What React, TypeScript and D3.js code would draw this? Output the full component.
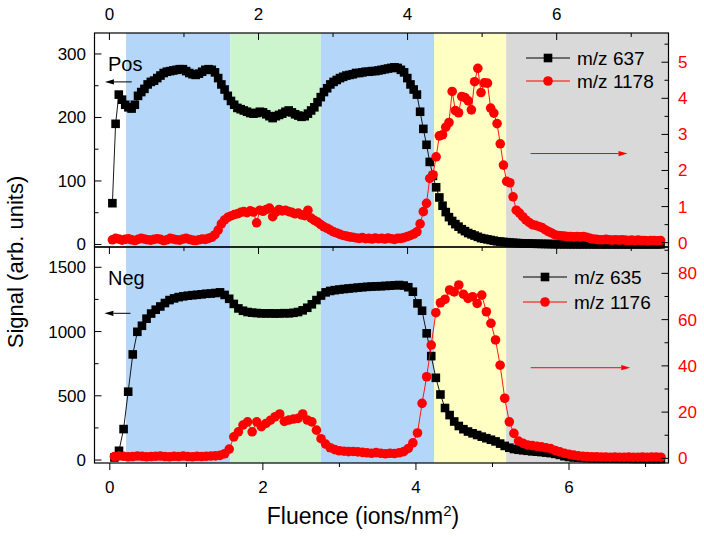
import React from 'react';
import * as d3 from 'd3';

const W = 704;
const H = 537;
const FONT = 'Arial, "Liberation Sans", sans-serif';

// fluence grid (ions/nm2) of the two measurements, regular acquisition steps
const posFluence = d3.range(172).map(i => 0.04 + 0.043 * i);
const negFluence = d3.range(120).map(i => 0.06 + 0.06 * i);

// positive mode, m/z 637 (left axis)
const pos637 = [
  65, 190, 236, 228, 220, 216, 214, 220, 234, 240,
  245, 252, 256, 258, 262, 266, 270, 272, 273, 274,
  275, 276, 276, 273, 270, 268, 267, 269, 272, 275,
  276, 275, 271, 262, 252, 244, 234, 226, 220, 215,
  213, 211, 209, 207, 206, 207, 209, 208, 205, 202,
  199, 202, 204, 206, 209, 211, 208, 205, 203, 201,
  202, 206, 211, 216, 224, 232, 240, 246, 252, 256,
  259, 262, 264, 266, 267, 268, 270, 270, 271, 272,
  272, 273, 273, 274, 275, 276, 277, 278, 279, 278,
  275, 271, 262, 252, 244, 236, 209, 182, 157, 130,
  108, 90, 74, 61, 51, 43, 37, 32, 28, 24,
  21, 18, 16, 14, 12, 10, 9, 8, 7, 6,
  5, 4.5, 4, 3.5, 3, 2.6, 2.3, 2, 1.8, 1.6,
  1.4, 1.2, 1.1, 1, 0.9, 0.8, 0.7, 0.6, 0.5, 0.5,
  0.4, 0.4, 0.4, 0.3, 0.4, 0.3, 0.3, 0.3, 0.3, 0.3,
  0.3, 0.2, 0.3, 0.2, 0.2, 0.3, 0.2, 0.2, 0.2, 0.2,
  0.2, 0.2, 0.2, 0.2, 0.2, 0.2, 0.2, 0.2, 0.2, 0.2,
  0.2, 0.2,
];

// positive mode, m/z 1178 (right axis)
const pos1178 = [
  0.08, 0.12, 0.10, 0.07, 0.09, 0.11, 0.08, 0.06, 0.09, 0.12,
  0.10, 0.08, 0.07, 0.09, 0.11, 0.09, 0.06, 0.08, 0.12, 0.10,
  0.08, 0.07, 0.10, 0.12, 0.09, 0.07, 0.06, 0.08, 0.10, 0.09,
  0.12, 0.15, 0.22, 0.35, 0.52, 0.63, 0.70, 0.74, 0.78, 0.80,
  0.84, 0.86, 0.83, 0.88, 0.85, 0.55, 0.90, 0.87, 0.92, 0.96,
  0.72, 0.85, 0.92, 0.88, 0.90, 0.86, 0.84, 0.80, 0.82, 0.77,
  0.75, 0.90, 0.68, 0.62, 0.57, 0.50, 0.44, 0.40, 0.35, 0.30,
  0.27, 0.23, 0.20, 0.18, 0.16, 0.15, 0.13, 0.12, 0.14, 0.11,
  0.12, 0.10, 0.13, 0.11, 0.12, 0.10, 0.13, 0.11, 0.09, 0.12,
  0.12, 0.14, 0.17, 0.20, 0.24, 0.30, 0.52, 0.86, 1.09, 1.78,
  1.88, 2.38, 2.96, 2.99, 3.20, 3.33, 4.19, 3.66, 3.60, 4.05,
  4.02, 3.93, 3.68, 4.46, 4.83, 4.16, 4.43, 4.42, 3.73, 3.59,
  3.30, 2.74, 2.15, 1.70, 1.66, 1.27, 0.90, 0.82, 0.72, 0.63,
  0.56, 0.50, 0.48, 0.45, 0.42, 0.36, 0.31, 0.27, 0.22, 0.20,
  0.19, 0.18, 0.17, 0.17, 0.16, 0.17, 0.16, 0.17, 0.15, 0.12,
  0.10, 0.09, 0.08, 0.08, 0.09, 0.08, 0.07, 0.08, 0.07, 0.08,
  0.07, 0.06, 0.07, 0.06, 0.07, 0.06, 0.06, 0.05, 0.06, 0.06,
  0.05, 0.06,
];

// negative mode, m/z 635 (left axis)
const neg635 = [
  20, 72, 241, 532, 822, 998, 1045, 1100, 1140, 1170,
  1195, 1222, 1245, 1258, 1268, 1274, 1279, 1283, 1286, 1290,
  1294, 1296, 1300, 1305, 1285, 1255, 1215, 1180, 1162, 1152,
  1147, 1144, 1142, 1141, 1142, 1140, 1141, 1143, 1142, 1146,
  1152, 1165, 1185, 1212, 1245, 1280, 1305, 1316, 1322, 1327,
  1331, 1335, 1338, 1342, 1345, 1348, 1350, 1352, 1353, 1355,
  1357, 1360, 1362, 1358, 1345, 1310, 1219, 1162, 986, 809,
  640, 510, 405, 350, 300, 265, 240, 222, 208, 195,
  182, 170, 158, 145, 128, 110, 96, 86, 80, 76,
  72, 68, 65, 62, 58, 54, 48, 40, 30, 24,
  20, 18, 16, 15, 14, 13, 12, 12, 11, 11,
  10, 10, 10, 9, 9, 9, 8, 8, 8, 8,
];

// negative mode, m/z 1176 (right axis)
const neg1176 = [
  0.8, 1.0, 0.9, 0.7, 0.8, 1.0, 0.9, 0.7, 0.8, 0.9,
  1.0, 0.8, 0.7, 0.9, 0.8, 1.0, 0.8, 0.7, 0.9, 0.8,
  0.9, 1.0, 1.1, 1.3, 2.0, 4.0, 9.3, 11.5, 14.4, 15.8,
  11.5, 15.8, 13.7, 15.1, 16.5, 18.0, 19.2, 16.0, 16.6, 17.0,
  17.3, 19.2, 16.6, 15.8, 12.2, 8.5, 6.2, 4.6, 3.8, 3.3,
  3.1, 2.9, 3.0, 2.8, 2.6, 2.4, 2.2, 2.5, 2.2, 2.0,
  2.2, 2.1, 2.4, 2.9, 4.3, 6.7, 11.0, 23.8, 35.3, 49.0,
  63.0, 67.3, 68.8, 72.8, 72.0, 75.0, 71.0, 69.2, 69.9, 67.0,
  70.6, 63.4, 58.4, 51.2, 40.3, 26.0, 15.8, 10.8, 7.5, 6.5,
  5.8, 5.5, 5.2, 5.0, 4.6, 4.2, 3.4, 2.8, 2.2, 1.8,
  1.4, 1.1, 0.9, 0.8, 0.7, 0.7, 0.6, 0.6, 0.5, 0.6,
  0.5, 0.5, 0.6, 0.5, 0.5, 0.6, 0.5, 0.6, 0.6, 0.5,
];

// shaded fluence regions (edges in fluence units of the upper scale)
const bandEdges = [0.223, 1.622, 2.835, 4.356, 5.322, 7.5];
const bandColors = ['#b4d7f9', '#cdf5cd', '#b4d7f9', '#fffec3', '#d9d9d9'];

// ticks
const xMajor = [0, 2, 4, 6];
const xMinor = [1, 3, 5, 7];
const posLeftMajor = [0, 100, 200, 300];
const posLeftMinor = [50, 150, 250];
const posRightMajor = [0, 1, 2, 3, 4, 5];
const posRightMinor = [0.5, 1.5, 2.5, 3.5, 4.5, 5.5];
const negLeftMajor = [0, 500, 1000, 1500];
const negLeftMinor = [250, 750, 1250];
const negRightMajor = [0, 20, 40, 60, 80];
const negRightMinor = [10, 30, 50, 70, 90];

const legendPos = ['m/z 637', 'm/z 1178'];
const legendNeg = ['m/z 635', 'm/z 1176'];

const L = 94.5, R = 668.5, T1 = 33, B1 = 247, T2 = 247, B2 = 463;

const xTop = d3.scaleLinear().domain([-0.2, 7.5]).range([L, R]);
const xBot = d3.scaleLinear().domain([-0.2, 7.3]).range([L, R]);
const posL = d3.scaleLinear().domain([-4, 333]).range([B1, T1]);
const posR = d3.scaleLinear().domain([-0.12, 5.81]).range([B1, T1]);
const negL = d3.scaleLinear().domain([-23, 1658]).range([B2, T2]);
const negR = d3.scaleLinear().domain([-2, 91.4]).range([B2, T2]);

const RED = '#ff0000';

function Series({ xs, ys, x, y, color, kind }: any) {
  const line = d3.line<number>().x((_, i) => x(xs[i])).y(d => y(d));
  return (
    <g>
      <path d={line(ys) || ''} fill="none" stroke={color} strokeWidth={0.9} />
      {ys.map((v: number, i: number) =>
        kind === 'square' ? (
          <rect key={i} x={x(xs[i]) - 4.3} y={y(v) - 4.3} width={8.6} height={8.6} fill={color} />
        ) : (
          <circle key={i} cx={x(xs[i])} cy={y(v)} r={4.8} fill={color} />
        )
      )}
    </g>
  );
}

function Arrow({ x1, x2, y, color }: any) {
  const dir = x2 > x1 ? 1 : -1;
  const hl = 9;
  return (
    <g>
      <line x1={x1} y1={y} x2={x2 - dir * hl} y2={y} stroke={color} strokeWidth={1} />
      <path d={`M${x2},${y} L${x2 - dir * hl},${y - 2.6} L${x2 - dir * hl},${y + 2.6} Z`} fill={color} />
    </g>
  );
}

function LegendRow({ x, y, label, color, kind }: any) {
  const cx = x + 22;
  return (
    <g>
      <line x1={x} y1={y} x2={x + 44} y2={y} stroke={color} strokeWidth={1} />
      {kind === 'square' ? (
        <rect x={cx - 4.3} y={y - 4.3} width={8.6} height={8.6} fill={color} />
      ) : (
        <circle cx={cx} cy={y} r={4.8} fill={color} />
      )}
      <text x={x + 51} y={y + 6.8} fontSize={19} fill="#000">{label}</text>
    </g>
  );
}

function YTicks({ scale, major, minor, side, color }: any) {
  const x0 = side === 'left' ? L : R;
  const d = side === 'left' ? 1 : -1;
  return (
    <g>
      {major.map((v: number) => (
        <g key={'M' + v}>
          <line x1={x0} x2={x0 + d * 7} y1={scale(v)} y2={scale(v)} stroke="#000" strokeWidth={1} />
          <text
            x={side === 'left' ? 86 : 678}
            y={scale(v) + 6}
            fontSize={17}
            textAnchor={side === 'left' ? 'end' : 'start'}
            fill={color}
          >
            {v}
          </text>
        </g>
      ))}
      {minor.map((v: number) => (
        <line key={'m' + v} x1={x0} x2={x0 + d * 4} y1={scale(v)} y2={scale(v)} stroke="#000" strokeWidth={1} />
      ))}
    </g>
  );
}

export default function App() {
  return (
    <svg
      width={W}
      height={H}
      style={{ position: 'absolute', left: 0, top: 0, background: '#fff' }}
      fontFamily={FONT}
    >
      <rect x={0} y={0} width={W} height={H} fill="#fff" />
      {/* shaded regions across both panels */}
      {bandColors.map((c, i) => (
        <rect
          key={i}
          x={xTop(bandEdges[i])}
          y={T1}
          width={xTop(bandEdges[i + 1]) - xTop(bandEdges[i])}
          height={B2 - T1}
          fill={c}
        />
      ))}

      {/* upper panel (Pos) */}
      <Series xs={posFluence} ys={pos637} x={xTop} y={posL} color="#000" kind="square" />
      <Series xs={posFluence} ys={pos1178} x={xTop} y={posR} color={RED} kind="circle" />

      {/* lower panel (Neg) */}
      <Series xs={negFluence} ys={neg635} x={xBot} y={negL} color="#000" kind="square" />
      <Series xs={negFluence} ys={neg1176} x={xBot} y={negR} color={RED} kind="circle" />

      {/* frames */}
      <rect x={L} y={T1} width={R - L} height={B1 - T1} fill="none" stroke="#000" strokeWidth={1.2} />
      <rect x={L} y={T2} width={R - L} height={B2 - T2} fill="none" stroke="#000" strokeWidth={1.2} />

      {/* top axis: ticks inward, labels above */}
      {xMajor.map(v => (
        <g key={'tx' + v}>
          <line x1={xTop(v)} x2={xTop(v)} y1={T1} y2={T1 + 7} stroke="#000" />
          <text x={xTop(v)} y={20} fontSize={17} textAnchor="middle">{v}</text>
          <line x1={xTop(v)} x2={xTop(v)} y1={B1} y2={B1 + 7} stroke="#000" />
        </g>
      ))}
      {xMinor.map(v => (
        <g key={'tm' + v}>
          <line x1={xTop(v)} x2={xTop(v)} y1={T1} y2={T1 + 4} stroke="#000" />
          <line x1={xTop(v)} x2={xTop(v)} y1={B1} y2={B1 + 4} stroke="#000" />
        </g>
      ))}

      {/* bottom axis: ticks outward, labels below */}
      {xMajor.map(v => (
        <g key={'bx' + v}>
          <line x1={xBot(v)} x2={xBot(v)} y1={B2} y2={B2 + 7} stroke="#000" />
          <text x={xBot(v)} y={493} fontSize={17} textAnchor="middle">{v}</text>
        </g>
      ))}
      {xMinor.map(v => (
        <line key={'bm' + v} x1={xBot(v)} x2={xBot(v)} y1={B2} y2={B2 + 4} stroke="#000" />
      ))}

      <YTicks scale={posL} major={posLeftMajor} minor={posLeftMinor} side="left" color="#000" />
      <YTicks scale={posR} major={posRightMajor} minor={posRightMinor} side="right" color={RED} />
      <YTicks scale={negL} major={negLeftMajor} minor={negLeftMinor} side="left" color="#000" />
      <YTicks scale={negR} major={negRightMajor} minor={negRightMinor} side="right" color={RED} />

      {/* annotations */}
      <text x={108} y={71} fontSize={20}>Pos</text>
      <text x={108} y={285} fontSize={20}>Neg</text>
      <Arrow x1={xTop(0.3)} x2={xTop(-0.06)} y={posL(256)} color="#000" />
      <Arrow x1={xTop(5.65)} x2={xTop(6.95)} y={posR(2.47)} color={RED} />
      <Arrow x1={xBot(0.27)} x2={xBot(-0.07)} y={negL(1142)} color="#000" />
      <Arrow x1={xBot(5.5)} x2={xBot(6.8)} y={negR(39.2)} color={RED} />

      {/* legends */}
      <LegendRow x={526} y={58} label={legendPos[0]} color="#000" kind="square" />
      <LegendRow x={526} y={81} label={legendPos[1]} color={RED} kind="circle" />
      <LegendRow x={523} y={277} label={legendNeg[0]} color="#000" kind="square" />
      <LegendRow x={523} y={302} label={legendNeg[1]} color={RED} kind="circle" />

      {/* axis titles */}
      <text transform="translate(23,262) rotate(-90)" fontSize={22} textAnchor="middle">
        Signal (arb. units)
      </text>
      <text x={363} y={524} fontSize={23} textAnchor="middle">
        Fluence (ions/nm<tspan dy={-8} fontSize={15}>2</tspan><tspan dy={8}>)</tspan>
      </text>
    </svg>
  );
}
